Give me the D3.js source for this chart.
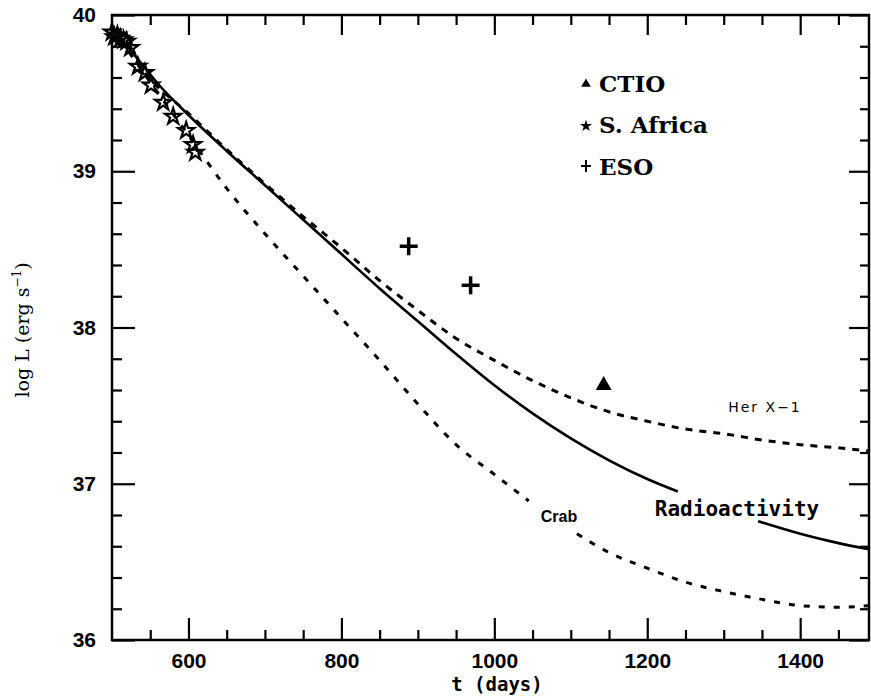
<!DOCTYPE html>
<html>
<head>
<meta charset="utf-8">
<script src="https://cdn.jsdelivr.net/npm/d3@7"></script>
<style>
  body { margin: 0; background: #fff; }
  svg { display: block; }
</style>
</head>
<body>
<script>
(function() {
    'use strict';

    // radioactivity curve (null = gap for the label)
    var radioT = [500, 530, 560, 600, 650, 700, 750, 800, 850, 900, 950, 1000, 1050, 1100, 1150, 1200, 1240, 1290, 1345, 1400, 1450, 1490];
    var radioL = [39.92, 39.74, 39.56, 39.36, 39.13, 38.91, 38.69, 38.47, 38.25, 38.04, 37.83, 37.63, 37.45, 37.29, 37.15, 37.03, 36.95, null, 36.76, 36.68, 36.62, 36.58];

    var herT = [500, 550, 600, 650, 700, 750, 800, 850, 900, 950, 1000, 1050, 1100, 1150, 1200, 1250, 1300, 1350, 1400, 1450, 1490];
    var herL = [39.92, 39.59, 39.37, 39.14, 38.92, 38.71, 38.51, 38.30, 38.11, 37.93, 37.79, 37.66, 37.55, 37.46, 37.40, 37.35, 37.32, 37.28, 37.25, 37.23, 37.21];

    var crabT = [500, 550, 600, 650, 700, 750, 800, 850, 900, 950, 1000, 1045, 1075, 1108, 1150, 1200, 1250, 1300, 1350, 1400, 1450, 1490];
    var crabL = [39.92, 39.57, 39.23, 38.89, 38.60, 38.33, 38.06, 37.79, 37.51, 37.25, 37.06, 36.89, null, 36.68, 36.56, 36.46, 36.37, 36.31, 36.26, 36.22, 36.21, 36.22];

    // observations
    var africaT = [500, 503, 507, 511, 515, 519, 524, 534, 543, 551, 567, 580, 597, 606, 609];
    var africaL = [39.89, 39.86, 39.87, 39.85, 39.84, 39.83, 39.79, 39.67, 39.63, 39.55, 39.44, 39.35, 39.26, 39.17, 39.12];
    var esoT = [888, 969];
    var esoL = [38.52, 38.27];
    var ctioT = [1143];
    var ctioL = [37.63];

    var xMajor = [600, 800, 1000, 1200, 1400];
    var yMajor = [36, 37, 38, 39, 40];

    var w = 871, h = 698;
    var left = 112, right = 869, top = 15, bottom = 640;

    var svg = d3.select("body").append("svg")
                .attr("width", w)
                .attr("height", h);

    var x = d3.scaleLinear().domain([500, 1490]).range([left, right]);
    var y = d3.scaleLinear().domain([36, 40]).range([bottom, top]);

    var xMinor = d3.range(550, 1490, 50).filter(function(d) { return xMajor.indexOf(d) < 0; });
    var yMinor = d3.range(36.2, 40, 0.2).filter(function(d) {
        return Math.abs(d - Math.round(d)) > 0.01;
    });

    function tickAxis(axis, vals, size, fmt) {
        return axis.tickValues(vals).tickSize(-size).tickFormat(fmt ? fmt : "");
    }

    function drawAxis(gen, tr) {
        var g = svg.append("g").attr("transform", tr).call(gen);
        g.select(".domain").remove();
        g.selectAll("line").attr("stroke", "#000").attr("stroke-width", 2.2);
        return g;
    }

    // bottom
    drawAxis(tickAxis(d3.axisBottom(x), xMinor, 10), "translate(0," + bottom + ")");
    var gb = drawAxis(tickAxis(d3.axisBottom(x), xMajor, 22, d3.format("d")), "translate(0," + bottom + ")");
    gb.selectAll("text")
      .attr("y", 13)
      .attr("dy", "0.71em")
      .style("font-family", "Liberation Sans, Arial, sans-serif")
      .style("font-weight", "bold")
      .style("font-size", "21px")
      .attr("fill", "#000");
    // top
    drawAxis(tickAxis(d3.axisTop(x), xMinor, 10), "translate(0," + top + ")");
    drawAxis(tickAxis(d3.axisTop(x), xMajor, 20), "translate(0," + top + ")");
    // left
    drawAxis(tickAxis(d3.axisLeft(y), yMinor, 10), "translate(" + left + ",0)");
    var gl = drawAxis(tickAxis(d3.axisLeft(y), yMajor, 23, d3.format("d")), "translate(" + left + ",0)");
    gl.selectAll("text")
      .attr("x", -16)
      .style("font-family", "Liberation Sans, Arial, sans-serif")
      .style("font-weight", "bold")
      .style("font-size", "21px")
      .attr("fill", "#000");
    // right
    drawAxis(tickAxis(d3.axisRight(y), yMinor, 9), "translate(" + right + ",0)");
    drawAxis(tickAxis(d3.axisRight(y), yMajor, 20), "translate(" + right + ",0)");

    svg.append("rect")
       .attr("x", left).attr("y", top)
       .attr("width", right - left).attr("height", bottom - top)
       .attr("fill", "none").attr("stroke", "#000").attr("stroke-width", 2.5);

    function zip(ts, ls) {
        return ts.map(function(t, i) { return {t: t, L: ls[i]}; });
    }

    var line = d3.line()
        .defined(function(d) { return d.L !== null; })
        .x(function(d) { return x(d.t); })
        .y(function(d) { return y(d.L); })
        .curve(d3.curveMonotoneX);

    var plot = svg.append("g");

    plot.append("path").datum(zip(herT, herL))
        .attr("d", line).attr("fill", "none").attr("stroke", "#000")
        .attr("stroke-width", 3).attr("stroke-dasharray", "7,7");
    plot.append("path").datum(zip(crabT, crabL))
        .attr("d", line).attr("fill", "none").attr("stroke", "#000")
        .attr("stroke-width", 3).attr("stroke-dasharray", "6,9");
    plot.append("path").datum(zip(radioT, radioL))
        .attr("d", line).attr("fill", "none").attr("stroke", "#000")
        .attr("stroke-width", 2.6);

    var star = d3.symbol().type(d3.symbolStar).size(80);
    plot.selectAll(".af").data(zip(africaT, africaL)).enter()
        .append("path")
        .attr("transform", function(d) { return "translate(" + x(d.t) + "," + y(d.L) + ")"; })
        .attr("d", star)
        .attr("fill", "none").attr("stroke", "#000").attr("stroke-width", 2.2);

    plot.selectAll(".eso").data(zip(esoT, esoL)).enter()
        .append("g")
        .attr("transform", function(d) { return "translate(" + x(d.t) + "," + y(d.L) + ")"; })
        .each(function() {
            var g = d3.select(this);
            g.append("line").attr("x1", -9).attr("x2", 9).attr("stroke", "#000").attr("stroke-width", 3.5);
            g.append("line").attr("y1", -9).attr("y2", 9).attr("stroke", "#000").attr("stroke-width", 3.5);
        });

    var tri = d3.symbol().type(d3.symbolTriangle).size(110);
    plot.selectAll(".ctio").data(zip(ctioT, ctioL)).enter()
        .append("path")
        .attr("transform", function(d) { return "translate(" + x(d.t) + "," + y(d.L) + ")"; })
        .attr("d", tri)
        .attr("fill", "#000");

    // curve labels
    svg.append("text").attr("x", 737).attr("y", 516)
       .attr("text-anchor", "middle")
       .style("font-family", "DejaVu Sans Mono, monospace")
       .style("font-weight", "bold").style("font-size", "21px")
       .text("Radioactivity");
    svg.append("text").attr("x", 559).attr("y", 522)
       .attr("text-anchor", "middle")
       .style("font-family", "Liberation Sans, Arial, sans-serif")
       .style("font-weight", "bold").style("font-size", "16px")
       .text("Crab");
    svg.append("text").attr("x", 765).attr("y", 412)
       .attr("text-anchor", "middle")
       .style("font-family", "DejaVu Sans, sans-serif")
       .style("font-size", "14px").style("letter-spacing", "2px")
       .text("Her X\u22121");

    // legend
    var legend = [
        {label: "CTIO", y: 92, sym: "tri"},
        {label: "S. Africa", y: 133, sym: "star"},
        {label: "ESO", y: 175, sym: "plus"}
    ];
    var lg = svg.selectAll(".leg").data(legend).enter().append("g")
        .attr("transform", function(d) { return "translate(586," + d.y + ")"; });
    lg.each(function(d) {
        var g = d3.select(this);
        if (d.sym === "tri") {
            g.append("path").attr("transform", "translate(0,-8)")
             .attr("d", d3.symbol().type(d3.symbolTriangle).size(40)).attr("fill", "#000");
        } else if (d.sym === "star") {
            g.append("path").attr("transform", "translate(0,-7)")
             .attr("d", d3.symbol().type(d3.symbolStar).size(45)).attr("fill", "#000");
        } else {
            g.append("line").attr("x1", -5).attr("x2", 5).attr("y1", -9).attr("y2", -9)
             .attr("stroke", "#000").attr("stroke-width", 2);
            g.append("line").attr("y1", -15).attr("y2", -3)
             .attr("stroke", "#000").attr("stroke-width", 2);
        }
    });
    lg.append("text").attr("x", 13)
      .style("font-family", "DejaVu Serif, serif")
      .style("font-weight", "bold").style("font-size", "23px")
      .text(function(d) { return d.label; });

    // axis titles
    svg.append("text").attr("x", 497).attr("y", 691)
       .attr("text-anchor", "middle")
       .style("font-family", "DejaVu Sans Mono, monospace")
       .style("font-weight", "bold").style("font-size", "19px")
       .text("t (days)");

    var yl = svg.append("text")
       .attr("transform", "translate(29,330) rotate(-90)")
       .attr("text-anchor", "middle")
       .style("font-family", "DejaVu Serif, serif")
       .style("font-size", "19px");
    yl.append("tspan").text("log L (erg s");
    yl.append("tspan").attr("dy", -8).style("font-size", "12px").text("\u22121");
    yl.append("tspan").attr("dy", 8).text(")");
}());
</script>
</body>
</html>
